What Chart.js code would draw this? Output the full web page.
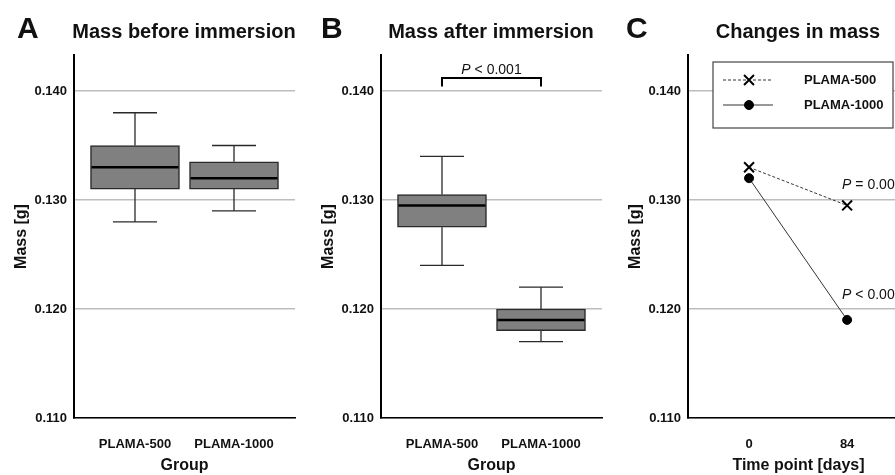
<!DOCTYPE html>
<html>
<head>
<meta charset="utf-8">
<script src="https://cdn.jsdelivr.net/npm/chart.js@4.4.1/dist/chart.umd.min.js"></script>
<style>
  body { margin: 0; width: 895px; height: 475px; overflow: hidden; background: #fff; position: relative;
         font-family: 'Liberation Sans', Arial, sans-serif; color: #111; }
  canvas { position: absolute; top: 0; }
  .tag { position: absolute; top: 13px; font-weight: bold; font-size: 30px; line-height: 30px; }
  .ttl { position: absolute; top: 21px; font-weight: bold; font-size: 20px; line-height: 20px;
         white-space: nowrap; transform: translateX(-50%); }
</style>
</head>
<body>
<canvas id="chartA" width="307" height="475" style="left:0"></canvas>
<canvas id="chartB" width="307" height="475" style="left:307px"></canvas>
<canvas id="chartC" width="307" height="475" style="left:614px"></canvas>

<div class="tag" style="left:17px">A</div>
<div class="ttl" style="left:184px">Mass before immersion</div>
<div class="tag" style="left:321px">B</div>
<div class="ttl" style="left:491px">Mass after immersion</div>
<div class="tag" style="left:626px">C</div>
<div class="ttl" style="left:798px">Changes in mass</div>

<script>
const groups = ['PLAMA-500', 'PLAMA-1000'];
const yTicks = [0.110, 0.120, 0.130, 0.140];

// mass before immersion [g]
const beforeMin    = [0.128, 0.129];
const beforeQ1     = [0.131, 0.131];
const beforeMedian = [0.133, 0.132];
const beforeQ3     = [0.135, 0.1335];
const beforeMax    = [0.138, 0.135];

// mass after immersion [g]
const afterMin    = [0.124, 0.117];
const afterQ1     = [0.1275, 0.118];
const afterMedian = [0.1295, 0.119];
const afterQ3     = [0.1305, 0.120];
const afterMax    = [0.134, 0.122];

// median mass per time point
const days     = [0, 84];
const mass500  = [0.133, 0.1295];
const mass1000 = [0.132, 0.119];

const pAfter  = '< 0.001';
const pChange = ['= 0.008', '< 0.001'];

const family = "'Liberation Sans', Arial, sans-serif";
const ink = '#111';

function yScale() {
  return {
    min: 0.110, max: 0.1433,
    afterBuildTicks: s => { s.ticks = yTicks.map(v => ({ value: v })); },
    afterFit: s => { s.width = 74; },
    border: { color: '#000', width: 2 },
    grid: { color: '#bdbdbd', lineWidth: 1.5, drawTicks: false },
    ticks: { padding: 7, color: ink, font: { family, size: 13, weight: 'bold' }, callback: v => v.toFixed(3) },
    title: { display: true, text: 'Mass [g]', color: ink, font: { family, size: 16, weight: 'bold' },
             padding: { top: 12, bottom: 0 } }
  };
}

function xScale(min, max, ticks, label, title) {
  return {
    type: 'linear', min, max, offset: false,
    afterBuildTicks: s => { s.ticks = ticks.map(v => ({ value: v })); },
    afterFit: s => { s.height = 57; },
    border: { color: '#000', width: 1.5 },
    grid: { display: false, drawTicks: false },
    ticks: { padding: 19, maxRotation: 0, autoSkip: false, color: ink,
             font: { family, size: 13, weight: 'bold' }, callback: label },
    title: { display: true, text: title, color: ink, font: { family, size: 16, weight: 'bold' },
             padding: { top: 0, bottom: 0 } }
  };
}

// "P" in italics followed by the rest of the statement
function drawP(ctx, x, y, rest, align) {
  ctx.font = `italic 14px ${family}`;
  const wP = ctx.measureText('P').width;
  ctx.font = `14px ${family}`;
  const wR = ctx.measureText(' ' + rest).width;
  let left = x;
  if (align === 'center') left = x - (wP + wR) / 2;
  ctx.fillStyle = ink;
  ctx.textBaseline = 'middle';
  ctx.textAlign = 'left';
  ctx.font = `italic 14px ${family}`;
  ctx.fillText('P', left, y);
  ctx.font = `14px ${family}`;
  ctx.fillText(' ' + rest, left + wP, y);
}

// whiskers and median on top of the floating q1-q3 bars
const boxPlot = {
  id: 'boxPlot',
  afterDatasetsDraw(chart) {
    const { ctx } = chart;
    const y = chart.scales.y;
    chart.data.datasets.forEach((ds, i) => {
      chart.getDatasetMeta(i).data.forEach((bar, j) => {
        const half = bar.width / 2, cap = 22;
        const top = y.getPixelForValue(ds.q3[j]), bot = y.getPixelForValue(ds.q1[j]);
        const hi = y.getPixelForValue(ds.max[j]), lo = y.getPixelForValue(ds.min[j]);
        const med = y.getPixelForValue(ds.median[j]);
        ctx.save();
        ctx.strokeStyle = '#2a2a2a';
        ctx.lineWidth = 1.3;
        ctx.beginPath();
        ctx.moveTo(bar.x, top); ctx.lineTo(bar.x, hi);
        ctx.moveTo(bar.x - cap, hi); ctx.lineTo(bar.x + cap, hi);
        ctx.moveTo(bar.x, bot); ctx.lineTo(bar.x, lo);
        ctx.moveTo(bar.x - cap, lo); ctx.lineTo(bar.x + cap, lo);
        ctx.stroke();
        ctx.strokeStyle = '#000';
        ctx.lineWidth = 2.5;
        ctx.beginPath();
        ctx.moveTo(bar.x - half + 1, med); ctx.lineTo(bar.x + half - 1, med);
        ctx.stroke();
        ctx.restore();
      });
    });
  }
};

function boxChart(id, min, q1, median, q3, max, extra) {
  return new Chart(document.getElementById(id), {
    type: 'bar',
    data: {
      datasets: [{
        data: groups.map((g, i) => ({ x: i + 1, y: [q1[i], q3[i]] })),
        min, q1, median, q3, max,
        backgroundColor: '#808080',
        borderColor: '#2a2a2a',
        borderWidth: 1.5,
        borderSkipped: false,
        barThickness: 89
      }]
    },
    options: {
      responsive: false,
      animation: false,
      layout: { padding: { top: 55, right: 12, left: 0, bottom: 0 } },
      plugins: { legend: { display: false }, tooltip: { enabled: false } },
      scales: {
        x: xScale(0.384, 2.616, [1, 2], v => groups[v - 1], 'Group'),
        y: yScale()
      }
    },
    plugins: extra ? [boxPlot, extra] : [boxPlot]
  });
}

boxChart('chartA', beforeMin, beforeQ1, beforeMedian, beforeQ3, beforeMax);

// significance bracket between the two groups
const bracket = {
  id: 'bracket',
  afterDraw(chart) {
    const { ctx, scales: { x, y } } = chart;
    const x1 = x.getPixelForValue(1), x2 = x.getPixelForValue(2);
    const yb = y.getPixelForValue(0.1412), yl = y.getPixelForValue(0.1404);
    ctx.save();
    ctx.strokeStyle = '#000';
    ctx.lineWidth = 2;
    ctx.beginPath();
    ctx.moveTo(x1, yl); ctx.lineTo(x1, yb); ctx.lineTo(x2, yb); ctx.lineTo(x2, yl);
    ctx.stroke();
    drawP(ctx, (x1 + x2) / 2, yb - 8, pAfter, 'center');
    ctx.restore();
  }
};

boxChart('chartB', afterMin, afterQ1, afterMedian, afterQ3, afterMax, bracket);

// boxed legend with line samples, plus P values next to day 84
const legendBox = {
  id: 'legendBox',
  afterDraw(chart) {
    const { ctx, chartArea: a, scales: { x, y } } = chart;
    const x0 = a.left + 25, y0 = a.top + 7;
    ctx.save();
    ctx.fillStyle = '#fff';
    ctx.fillRect(x0, y0, 180, 66);
    ctx.strokeStyle = '#444';
    ctx.lineWidth = 1.2;
    ctx.strokeRect(x0, y0, 180, 66);
    chart.data.datasets.forEach((ds, i) => {
      const cy = y0 + 18 + i * 25;
      ctx.strokeStyle = ds.borderColor;
      ctx.lineWidth = ds.borderWidth;
      ctx.setLineDash(ds.borderDash || []);
      ctx.beginPath();
      ctx.moveTo(x0 + 10, cy); ctx.lineTo(x0 + 60, cy);
      ctx.stroke();
      ctx.setLineDash([]);
      ctx.strokeStyle = '#000';
      ctx.fillStyle = '#000';
      ctx.lineWidth = ds.pointBorderWidth;
      Chart.helpers.drawPoint(ctx, { pointStyle: ds.pointStyle, radius: ds.pointRadius,
                                     borderWidth: ds.pointBorderWidth }, x0 + 36, cy);
      ctx.fillStyle = ink;
      ctx.font = `bold 13px ${family}`;
      ctx.textAlign = 'left';
      ctx.textBaseline = 'middle';
      ctx.fillText(ds.label, x0 + 91, cy);
    });
    const px = x.getPixelForValue(days[1]) - 5;
    drawP(ctx, px, y.getPixelForValue(0.1314), pChange[0], 'left');
    drawP(ctx, px, y.getPixelForValue(0.1213), pChange[1], 'left');
    ctx.restore();
  }
};

new Chart(document.getElementById('chartC'), {
  type: 'line',
  data: {
    datasets: [{
      label: 'PLAMA-500',
      data: days.map((d, i) => ({ x: d, y: mass500[i] })),
      borderColor: '#333', borderWidth: 1, borderDash: [3, 2],
      pointStyle: 'crossRot', pointRadius: 7, pointBorderWidth: 2,
      pointBorderColor: '#000', pointBackgroundColor: '#000'
    }, {
      label: 'PLAMA-1000',
      data: days.map((d, i) => ({ x: d, y: mass1000[i] })),
      borderColor: '#333', borderWidth: 1,
      pointStyle: 'circle', pointRadius: 4.5, pointBorderWidth: 1,
      pointBorderColor: '#000', pointBackgroundColor: '#000'
    }]
  },
  options: {
    responsive: false,
    animation: false,
    layout: { padding: { top: 55, right: 12, left: 0, bottom: 0 } },
    plugins: { legend: { display: false }, tooltip: { enabled: false } },
    scales: {
      x: xScale(-52.3, 137, days, v => String(v), 'Time point [days]'),
      y: yScale()
    }
  },
  plugins: [legendBox]
});
</script>
</body>
</html>
